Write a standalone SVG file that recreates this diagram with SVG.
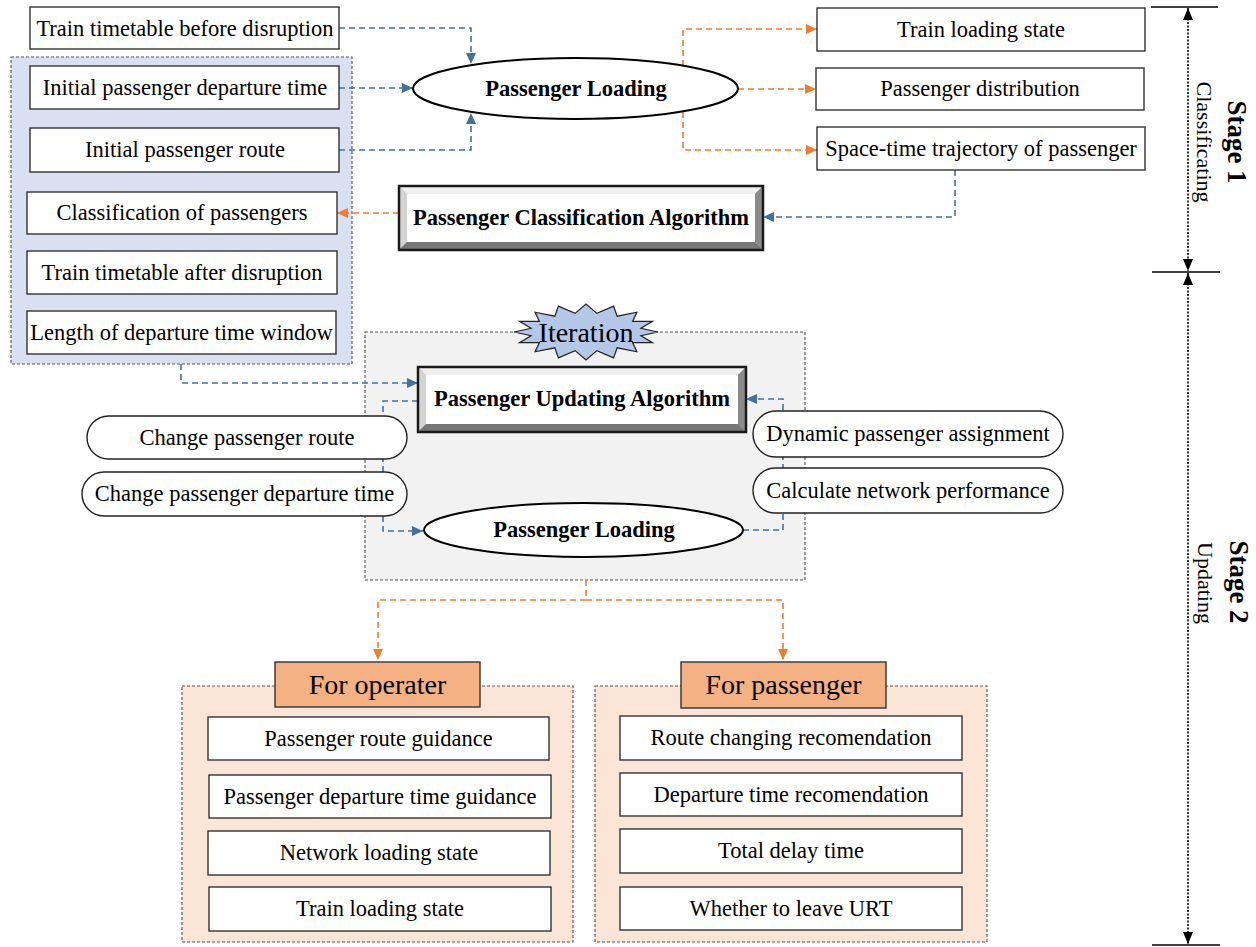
<svg xmlns="http://www.w3.org/2000/svg" width="1256" height="947" viewBox="0 0 1256 947">
<style>
text{font-family:"Liberation Serif","Times New Roman",serif;fill:#000;text-anchor:middle}
.t{font-size:22.5px}
.b{font-size:22.5px;font-weight:bold}
.h{font-size:28px}
.box{fill:#fff;stroke:#333;stroke-width:1.4}
.pill{fill:#fff;stroke:#222;stroke-width:1.4}
.panel{stroke:#555;stroke-width:1.1;stroke-dasharray:3 2}
.ell{fill:#fff;stroke:#000;stroke-width:2}
.blue{fill:none;stroke:#41719C;stroke-width:1.6;stroke-dasharray:6 4;marker-end:url(#ab)}
.orange{fill:none;stroke:#ED7D31;stroke-width:1.6;stroke-dasharray:6 4}
.oa{marker-end:url(#ao)}
.axis{fill:none;stroke:#000;stroke-width:1.6;stroke-dasharray:2 1.5;marker-start:url(#ak);marker-end:url(#ak)}
.tick{stroke:#000;stroke-width:1.6}
.bt{fill:#f0f0f0}.bl{fill:#d4d4d4}.br{fill:#8a8a8a}.bb{fill:#777}
.bo{fill:none;stroke:#1a1a1a;stroke-width:2.5}
.hdr{fill:#F4B183;stroke:#333;stroke-width:1.4}
</style>
<defs>
<marker id="ab" markerUnits="userSpaceOnUse" markerWidth="11" markerHeight="10" refX="11" refY="5" orient="auto"><path d="M0,0 L11,5 L0,10 z" fill="#41719C"/></marker>
<marker id="ao" markerUnits="userSpaceOnUse" markerWidth="11" markerHeight="10" refX="11" refY="5" orient="auto"><path d="M0,0 L11,5 L0,10 z" fill="#ED7D31"/></marker>
<marker id="ak" markerUnits="userSpaceOnUse" markerWidth="12" markerHeight="10" refX="12" refY="5" orient="auto-start-reverse"><path d="M0,0 L12,5 L0,10 z" fill="#000"/></marker>
</defs>

<g id="panels">
<rect x="11" y="57" width="341" height="307" fill="#D9E0F2" class="panel"/>
<rect x="365" y="332" width="440" height="248" fill="#F2F2F2" class="panel"/>
<rect x="182" y="686" width="391" height="256" fill="#FBE5D6" class="panel"/>
<rect x="595" y="686" width="392" height="256" fill="#FBE5D6" class="panel"/>
</g>

<g id="stage-axis">
<line class="tick" x1="1151" y1="7" x2="1218" y2="7"/>
<line class="tick" x1="1152" y1="272" x2="1220" y2="272"/>
<line class="tick" x1="1152" y1="945" x2="1220" y2="945"/>
<path class="axis" d="M1188 8 V271"/>
<path class="axis" d="M1188 273 V944"/>
<text transform="translate(1228,142) rotate(90)" style="font-size:27px;font-weight:bold">Stage 1</text>
<text transform="translate(1197,142) rotate(90)" style="font-size:22px">Classificating</text>
<text transform="translate(1230,582) rotate(90)" style="font-size:27px;font-weight:bold">Stage 2</text>
<text transform="translate(1198,583) rotate(90)" style="font-size:22px">Updating</text>
</g>

<g id="connectors">
<path class="blue" d="M339 28 H471 V64"/>
<path class="blue" d="M339 88 H413"/>
<path class="blue" d="M339 150 H471 V113"/>
<path class="orange oa" d="M683 66 V29 H817"/>
<path class="orange oa" d="M738 89 H816"/>
<path class="orange oa" d="M683 112 V150 H817"/>
<path class="blue" d="M955 170 V217 H763"/>
<path class="orange oa" d="M399 213 H337"/>
<path class="blue" d="M181 364 V383 H418"/>
<path class="blue" d="M418 401 H383 V531 H423"/>
<path class="blue" d="M743 530 H783 V399 H746"/>
<path class="orange oa" d="M586 580 V600 H378 V660"/>
<path class="orange oa" d="M586 600 H783 V660"/>
</g>

<g id="n-tt-before"><rect class="box" x="30" y="7" width="309" height="42"/><text class="t" x="185" y="36">Train timetable before disruption</text></g>
<g id="n-init-dep"><rect class="box" x="30" y="66" width="309" height="43"/><text class="t" x="185" y="95">Initial passenger departure time</text></g>
<g id="n-init-route"><rect class="box" x="30" y="128" width="309" height="44"/><text class="t" x="185" y="157">Initial passenger route</text></g>
<g id="n-classif"><rect class="box" x="27" y="192" width="310" height="42"/><text class="t" x="182" y="220">Classification of passengers</text></g>
<g id="n-tt-after"><rect class="box" x="27" y="251" width="310" height="43"/><text class="t" x="182" y="280">Train timetable after disruption</text></g>
<g id="n-window"><rect class="box" x="27" y="311" width="309" height="43"/><text class="t" x="181.5" y="340">Length of departure time window</text></g>

<g id="n-loading1"><ellipse class="ell" cx="575.5" cy="88.5" rx="162.5" ry="30.5"/><text class="b" x="576" y="96">Passenger Loading</text></g>

<g id="n-train-state"><rect class="box" x="817" y="8" width="328" height="43"/><text class="t" x="981" y="37">Train loading state</text></g>
<g id="n-distribution"><rect class="box" x="816" y="68" width="328" height="42"/><text class="t" x="980" y="96">Passenger distribution</text></g>
<g id="n-trajectory"><rect class="box" x="817" y="127" width="328" height="43"/><text class="t" x="981" y="156">Space-time trajectory of passenger</text></g>

<g id="n-class-algo">
<rect x="399" y="186" width="364" height="64" fill="#c0c0c0"/>
<polygon class="bt" points="399,186 763,186 755,194 407,194"/>
<polygon class="bl" points="399,186 407,194 407,242 399,250"/>
<polygon class="br" points="763,186 763,250 755,242 755,194"/>
<polygon class="bb" points="399,250 407,242 755,242 763,250"/>
<rect x="407" y="194" width="348" height="48" fill="#fff"/>
<rect class="bo" x="399" y="186" width="364" height="64"/>
<text class="b" x="581" y="225">Passenger Classification Algorithm</text>
</g>

<g id="n-iteration">
<polygon points="658,332 640.9,335.7 652.5,342.7 632.6,342.6 636.9,351.8 617.1,347.8 613.6,357.9 596.9,350.6 586,360 575.1,350.6 558.4,357.9 554.9,347.8 535.1,351.8 539.4,342.6 519.5,342.7 531.1,335.7 514,332 531.1,328.3 519.5,321.3 539.4,321.4 535.1,312.2 554.9,316.2 558.4,306.1 575.1,313.4 586,304 596.9,313.4 613.6,306.1 617.1,316.2 636.9,312.2 632.6,321.4 652.5,321.3 640.9,328.3" fill="#B4C7E7" stroke="#222" stroke-width="1.2"/>
<text class="h" x="586" y="342">Iteration</text>
</g>

<g id="n-update-algo">
<rect x="418" y="367" width="328" height="65" fill="#c0c0c0"/>
<polygon class="bt" points="418,367 746,367 738,375 426,375"/>
<polygon class="bl" points="418,367 426,375 426,424 418,432"/>
<polygon class="br" points="746,367 746,432 738,424 738,375"/>
<polygon class="bb" points="418,432 426,424 738,424 746,432"/>
<rect x="426" y="375" width="312" height="49" fill="#fff"/>
<rect class="bo" x="418" y="367" width="328" height="65"/>
<text class="b" x="582" y="406">Passenger Updating Algorithm</text>
</g>

<g id="n-change-route"><rect class="pill" x="87" y="416" width="320" height="43" rx="21.5"/><text class="t" x="247" y="445">Change passenger route</text></g>
<g id="n-change-dep"><rect class="pill" x="82" y="472" width="325" height="44" rx="22"/><text class="t" x="244.5" y="501">Change passenger departure time</text></g>
<g id="n-dyn-assign"><rect class="pill" x="753" y="411" width="310" height="46" rx="23"/><text class="t" x="908" y="441">Dynamic passenger assignment</text></g>
<g id="n-calc-perf"><rect class="pill" x="753" y="468" width="310" height="45" rx="22.5"/><text class="t" x="908" y="498">Calculate network performance</text></g>

<g id="n-loading2"><ellipse class="ell" cx="583.5" cy="530" rx="159.5" ry="27"/><text class="b" x="584" y="537">Passenger Loading</text></g>

<g id="n-for-operater"><rect class="hdr" x="275" y="662" width="205" height="45"/><text class="h" x="377.5" y="694">For operater</text></g>
<g id="n-op-route"><rect class="box" x="208" y="717" width="341" height="43"/><text class="t" x="378.5" y="746">Passenger route guidance</text></g>
<g id="n-op-dep"><rect class="box" x="209" y="775" width="342" height="43"/><text class="t" x="380" y="804">Passenger departure time guidance</text></g>
<g id="n-op-net"><rect class="box" x="208" y="831" width="342" height="44"/><text class="t" x="379" y="860">Network loading state</text></g>
<g id="n-op-train"><rect class="box" x="209" y="887" width="342" height="44"/><text class="t" x="380" y="916">Train loading state</text></g>

<g id="n-for-passenger"><rect class="hdr" x="681" y="662" width="205" height="46"/><text class="h" x="783.5" y="694">For passenger</text></g>
<g id="n-p-route"><rect class="box" x="620" y="716" width="342" height="44"/><text class="t" x="791" y="745">Route changing recomendation</text></g>
<g id="n-p-dep"><rect class="box" x="620" y="773" width="342" height="43"/><text class="t" x="791" y="802">Departure time recomendation</text></g>
<g id="n-p-delay"><rect class="box" x="620" y="829" width="342" height="44"/><text class="t" x="791" y="858">Total delay time</text></g>
<g id="n-p-leave"><rect class="box" x="620" y="887" width="342" height="43"/><text class="t" x="791" y="916">Whether to leave URT</text></g>
</svg>
